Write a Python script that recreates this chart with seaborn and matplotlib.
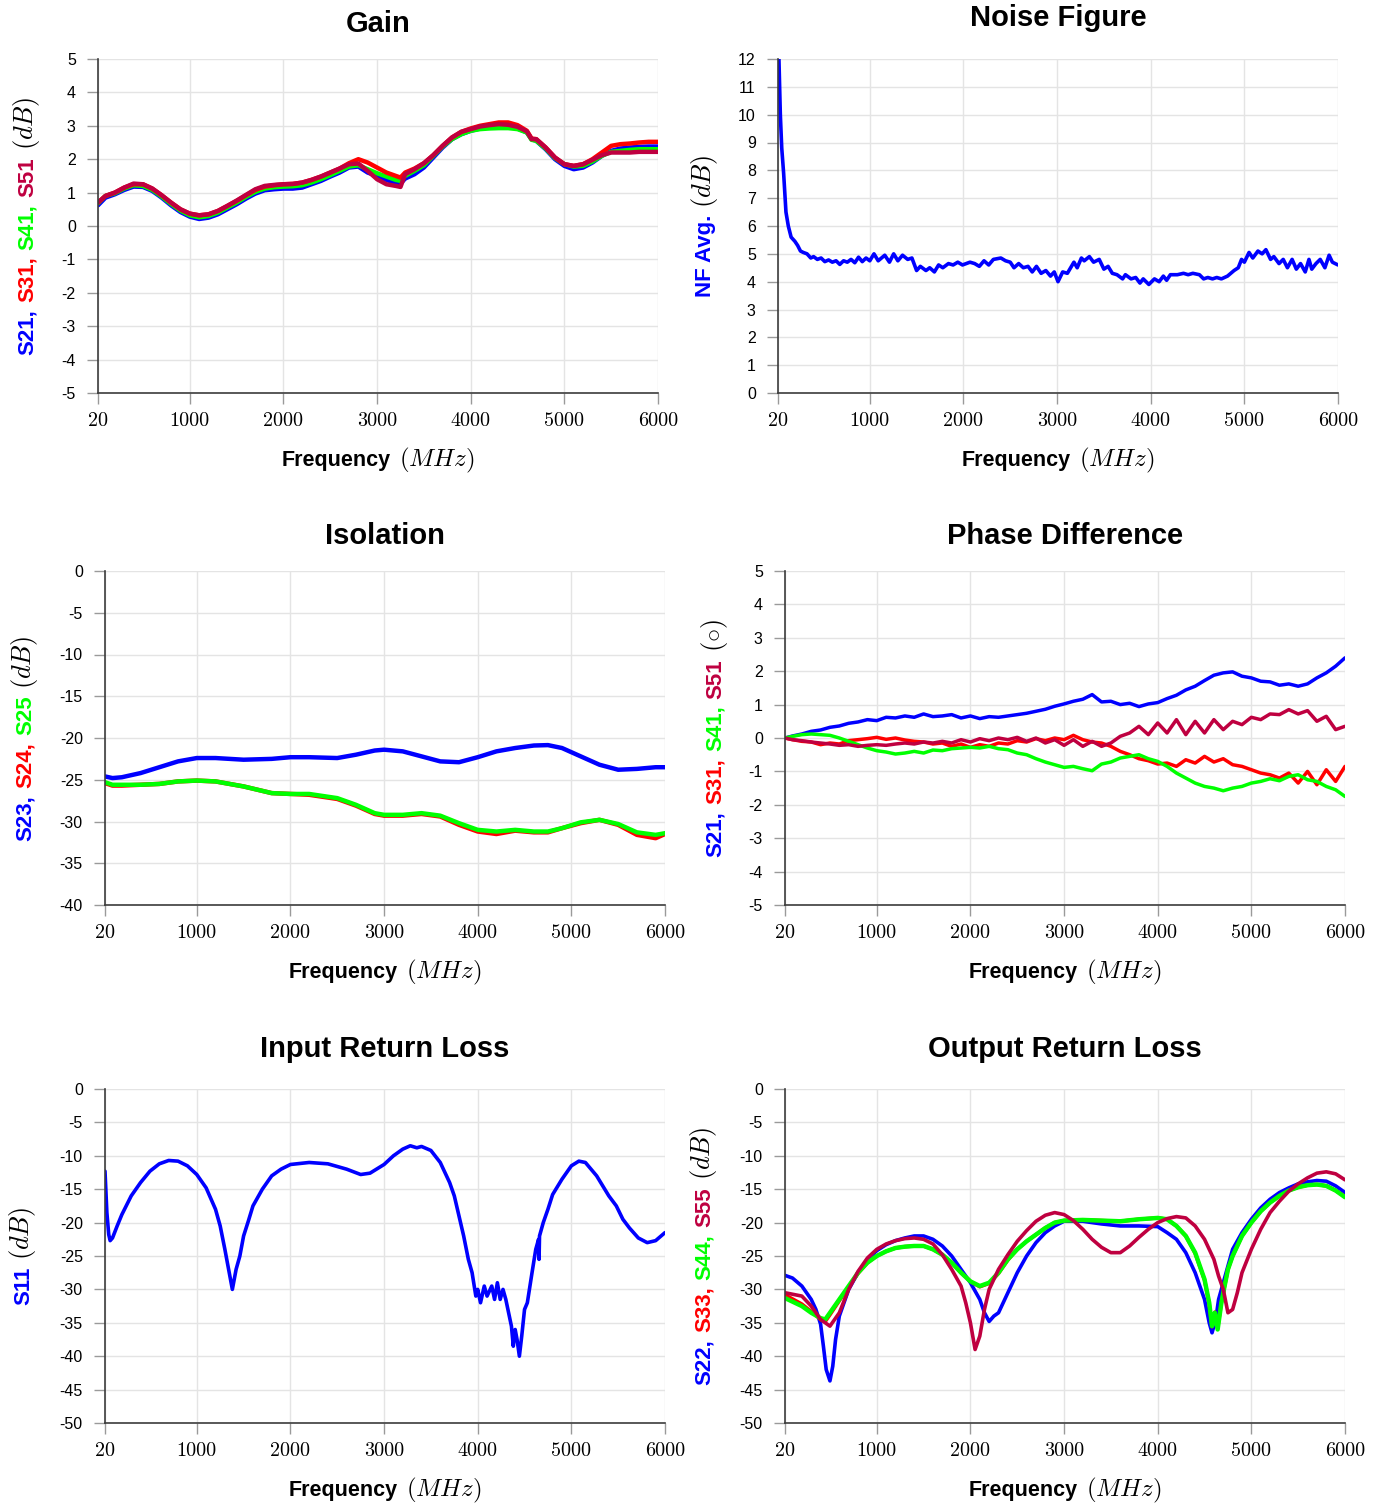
import matplotlib
matplotlib.use("Agg")
import matplotlib.pyplot as plt
from matplotlib.transforms import IdentityTransform
import seaborn as sns

# ---------------- data ----------------
BLUE, RED, GREEN, PURPLE = "#0000ff", "#ff0000", "#00ff00", "#bf0040"

XTICKS = [20, 1000, 2000, 3000, 4000, 5000, 6000]

# Gain
gain_freq = [20, 100, 200, 300, 400, 500, 600, 700, 800, 900, 1000, 1100, 1200, 1300, 1400, 1500,
             1600, 1700, 1800, 1900, 2000, 2100, 2200, 2300, 2400, 2500, 2600, 2700, 2800, 2900,
             3000, 3100, 3200, 3250, 3300, 3400, 3500, 3600, 3700, 3800, 3900, 4000, 4100, 4200,
             4300, 4400, 4500, 4600, 4650, 4700, 4800, 4900, 5000, 5100, 5200, 5300, 5400, 5500,
             5600, 5700, 5800, 5900, 6000]
gain_s21 = [0.62, 0.85, 0.95, 1.08, 1.18, 1.17, 1.05, 0.85, 0.62, 0.42, 0.28, 0.21, 0.25, 0.35, 0.5,
            0.65, 0.82, 0.97, 1.07, 1.1, 1.12, 1.12, 1.15, 1.25, 1.35, 1.48, 1.6, 1.75, 1.78, 1.6,
            1.5, 1.38, 1.28, 1.27, 1.42, 1.55, 1.75, 2.05, 2.35, 2.6, 2.75, 2.85, 2.92, 2.95, 2.97,
            2.97, 2.92, 2.8, 2.6, 2.55, 2.3, 2.0, 1.8, 1.7, 1.75, 1.9, 2.1, 2.25, 2.32, 2.35, 2.37,
            2.38, 2.38]
gain_s31 = [0.7, 0.9, 1.0, 1.15, 1.25, 1.25, 1.12, 0.92, 0.7, 0.5, 0.37, 0.32, 0.35, 0.45, 0.6,
            0.75, 0.92, 1.08, 1.18, 1.22, 1.25, 1.26, 1.3, 1.38, 1.48, 1.6, 1.72, 1.88, 2.0, 1.9,
            1.75, 1.6, 1.5, 1.45, 1.6, 1.72, 1.88, 2.12, 2.4, 2.65, 2.82, 2.92, 3.0, 3.05, 3.1,
            3.1, 3.02, 2.85, 2.62, 2.6, 2.35, 2.05, 1.85, 1.8, 1.85, 2.0, 2.2, 2.4, 2.45, 2.47,
            2.5, 2.52, 2.52]
gain_s41 = [0.68, 0.9, 0.98, 1.12, 1.22, 1.2, 1.08, 0.88, 0.66, 0.46, 0.32, 0.26, 0.3, 0.4, 0.55,
            0.7, 0.87, 1.02, 1.12, 1.16, 1.18, 1.19, 1.22, 1.3, 1.4, 1.52, 1.65, 1.78, 1.82, 1.7,
            1.58, 1.48, 1.38, 1.35, 1.5, 1.65, 1.82, 2.1, 2.38, 2.6, 2.75, 2.85, 2.9, 2.92, 2.93,
            2.93, 2.9, 2.8, 2.58, 2.55, 2.32, 2.03, 1.85, 1.78, 1.8, 1.93, 2.1, 2.22, 2.25, 2.28,
            2.3, 2.3, 2.3]
gain_s51 = [0.7, 0.9, 1.0, 1.15, 1.27, 1.25, 1.12, 0.92, 0.7, 0.5, 0.37, 0.32, 0.35, 0.45, 0.6,
            0.76, 0.93, 1.1, 1.2, 1.23, 1.25, 1.26, 1.3, 1.38, 1.48, 1.6, 1.72, 1.85, 1.87, 1.65,
            1.4, 1.25, 1.2, 1.17, 1.55, 1.7, 1.88, 2.12, 2.4, 2.65, 2.82, 2.9, 2.98, 3.02, 3.05,
            3.03, 2.97, 2.83, 2.6, 2.6, 2.35, 2.05, 1.85, 1.8, 1.85, 1.98, 2.12, 2.2, 2.2, 2.2,
            2.22, 2.22, 2.22]

# Noise figure
nf_freq = [20, 30, 45, 60, 80, 105, 130, 160, 200, 230, 260, 290, 330, 370, 400, 440, 480, 520,
           560, 600, 640, 680, 720, 760, 800, 840, 880, 920, 960, 1000, 1045, 1090, 1160, 1210,
           1255, 1300, 1350, 1405, 1450, 1500, 1540, 1600, 1640, 1690, 1735, 1780, 1840, 1890,
           1940, 1990, 2070, 2120, 2170, 2220, 2270, 2320, 2400, 2450, 2500, 2540, 2590, 2640,
           2690, 2735, 2780, 2830, 2880, 2930, 2970, 3010, 3060, 3110, 3180, 3215, 3260, 3290,
           3345, 3390, 3450, 3500, 3545, 3590, 3640, 3700, 3730, 3790, 3840, 3885, 3920, 3980,
           4040, 4090, 4135, 4170, 4210, 4285, 4350, 4400, 4450, 4520, 4565, 4610, 4660, 4705,
           4755, 4820, 4890, 4935, 4970, 5000, 5050, 5090, 5145, 5190, 5230, 5280, 5315, 5370,
           5415, 5460, 5510, 5555, 5600, 5650, 5690, 5720, 5765, 5810, 5860, 5905, 5940, 6000]
nf_avg = [13.5, 12.0, 10.0, 8.8, 7.9, 6.5, 6.0, 5.6, 5.45, 5.3, 5.1, 5.05, 5.0, 4.85, 4.9, 4.8,
          4.85, 4.72, 4.78, 4.7, 4.75, 4.62, 4.75, 4.7, 4.8, 4.68, 4.88, 4.72, 4.85, 4.75, 5.0,
          4.75, 4.95, 4.7, 5.0, 4.75, 4.95, 4.8, 4.85, 4.4, 4.55, 4.4, 4.5, 4.35, 4.6, 4.5, 4.65,
          4.6, 4.7, 4.6, 4.7, 4.65, 4.55, 4.75, 4.6, 4.8, 4.85, 4.75, 4.7, 4.5, 4.65, 4.5, 4.55,
          4.35, 4.55, 4.3, 4.4, 4.2, 4.35, 4.0, 4.35, 4.3, 4.7, 4.5, 4.85, 4.75, 4.9, 4.7, 4.8,
          4.45, 4.55, 4.3, 4.25, 4.1, 4.25, 4.1, 4.15, 3.95, 4.1, 3.9, 4.1, 4.0, 4.2, 4.05, 4.25,
          4.25, 4.3, 4.25, 4.3, 4.25, 4.1, 4.15, 4.1, 4.15, 4.1, 4.2, 4.4, 4.5, 4.8, 4.7, 5.05,
          4.85, 5.1, 5.0, 5.15, 4.8, 4.9, 4.65, 4.8, 4.5, 4.8, 4.45, 4.65, 4.35, 4.8, 4.45, 4.65,
          4.8, 4.5, 4.95, 4.7, 4.6]

# Isolation
iso_freq = [20, 100, 200, 400, 600, 800, 1000, 1200, 1500, 1800, 2000, 2200, 2500, 2700, 2900,
            3000, 3200, 3400, 3600, 3800, 4000, 4200, 4400, 4600, 4750, 4900, 5100, 5300, 5500,
            5700, 5900, 6000]
iso_s23 = [-24.6, -24.8, -24.7, -24.2, -23.5, -22.8, -22.4, -22.4, -22.6, -22.5, -22.3, -22.3,
           -22.4, -22.0, -21.5, -21.4, -21.6, -22.2, -22.8, -22.9, -22.3, -21.6, -21.2, -20.9,
           -20.85, -21.2, -22.2, -23.2, -23.8, -23.7, -23.5, -23.5]
iso_s24 = [-25.4, -25.7, -25.7, -25.6, -25.5, -25.2, -25.1, -25.2, -25.8, -26.6, -26.7, -26.8,
           -27.3, -28.1, -29.1, -29.3, -29.3, -29.1, -29.4, -30.4, -31.2, -31.5, -31.1, -31.3,
           -31.3, -30.8, -30.2, -29.8, -30.4, -31.6, -32.0, -31.5]
iso_s25 = [-25.3, -25.6, -25.6, -25.6, -25.5, -25.2, -25.1, -25.2, -25.8, -26.6, -26.7, -26.7,
           -27.2, -28.0, -29.0, -29.2, -29.2, -29.0, -29.3, -30.2, -31.0, -31.2, -31.0, -31.2,
           -31.2, -30.8, -30.1, -29.8, -30.3, -31.3, -31.6, -31.4]

# Phase difference
phase_freq = [20, 100, 200, 300, 400, 500, 600, 700, 800, 900, 1000, 1100, 1200, 1300, 1400,
              1500, 1600, 1700, 1800, 1900, 2000, 2100, 2200, 2300, 2400, 2500, 2600, 2700, 2800,
              2900, 3000, 3100, 3200, 3300, 3400, 3500, 3600, 3700, 3800, 3900, 4000, 4100, 4200,
              4300, 4400, 4500, 4600, 4700, 4800, 4900, 5000, 5100, 5200, 5300, 5400, 5500, 5600,
              5700, 5800, 5900, 6000]
phase_s21 = [0.0, 0.06, 0.12, 0.2, 0.24, 0.32, 0.36, 0.44, 0.48, 0.55, 0.52, 0.62, 0.6, 0.66,
             0.62, 0.72, 0.64, 0.66, 0.7, 0.6, 0.66, 0.58, 0.64, 0.62, 0.66, 0.7, 0.74, 0.8, 0.86,
             0.95, 1.02, 1.1, 1.16, 1.3, 1.08, 1.1, 1.0, 1.04, 0.94, 1.02, 1.06, 1.18, 1.28, 1.44,
             1.55, 1.72, 1.88, 1.95, 1.98, 1.85, 1.8, 1.7, 1.68, 1.58, 1.62, 1.55, 1.62, 1.8, 1.95,
             2.15, 2.4]
phase_s31 = [0.0, -0.05, -0.1, -0.12, -0.2, -0.15, -0.18, -0.08, -0.05, -0.02, 0.02, -0.04, 0.0,
             -0.06, -0.1, -0.12, -0.18, -0.15, -0.25, -0.18, -0.28, -0.2, -0.25, -0.15, -0.18,
             -0.08, -0.12, -0.02, -0.08, 0.0, -0.05, 0.08, -0.05, -0.12, -0.15, -0.25, -0.4, -0.5,
             -0.62, -0.68, -0.78, -0.75, -0.85, -0.65, -0.75, -0.55, -0.72, -0.62, -0.8, -0.85,
             -0.95, -1.05, -1.1, -1.2, -1.05, -1.35, -1.0, -1.4, -0.95, -1.3, -0.85]
phase_s41 = [0.0, 0.05, 0.1, 0.12, 0.1, 0.08, 0.0, -0.1, -0.2, -0.3, -0.38, -0.42, -0.48, -0.45,
             -0.4, -0.45, -0.36, -0.38, -0.32, -0.3, -0.28, -0.3, -0.25, -0.32, -0.35, -0.45, -0.5,
             -0.62, -0.72, -0.8, -0.88, -0.85, -0.92, -0.98, -0.78, -0.72, -0.6, -0.55, -0.5,
             -0.62, -0.7, -0.85, -1.05, -1.2, -1.35, -1.45, -1.5, -1.58, -1.5, -1.45, -1.35, -1.3,
             -1.22, -1.28, -1.15, -1.1, -1.25, -1.3, -1.45, -1.55, -1.75]
phase_s51 = [0.0, -0.05, -0.08, -0.12, -0.15, -0.18, -0.22, -0.2, -0.25, -0.22, -0.2, -0.22,
             -0.18, -0.15, -0.18, -0.12, -0.15, -0.1, -0.15, -0.05, -0.12, -0.02, -0.08, 0.0,
             -0.05, 0.02, -0.1, 0.0, -0.15, -0.05, -0.22, -0.05, -0.25, -0.1, -0.25, -0.15, 0.05,
             0.15, 0.35, 0.1, 0.45, 0.15, 0.55, 0.1, 0.5, 0.15, 0.55, 0.25, 0.5, 0.4, 0.62, 0.55,
             0.72, 0.7, 0.85, 0.72, 0.82, 0.5, 0.65, 0.25, 0.35]

# Input return loss
irl_freq = [20, 40, 60, 75, 100, 150, 200, 300, 400, 500, 600, 700, 800, 900, 1000, 1100, 1200,
            1250, 1300, 1340, 1380, 1420, 1460, 1500, 1550, 1600, 1700, 1800, 1900, 2000, 2200,
            2400, 2600, 2750, 2850, 3000, 3100, 3200, 3280, 3350, 3400, 3500, 3600, 3700, 3750,
            3800, 3850, 3900, 3940, 3980, 4000, 4030, 4070, 4100, 4150, 4180, 4210, 4240, 4270,
            4300, 4330, 4360, 4380, 4400, 4420, 4445, 4470, 4500, 4530, 4580, 4620, 4650, 4655,
            4660, 4700, 4750, 4800, 4900, 5000, 5080, 5150, 5270, 5400, 5480, 5550, 5620, 5715,
            5810, 5900, 6000]
irl_s11 = [-12.3, -18.5, -21.8, -22.7, -22.3, -20.5, -18.8, -16.0, -14.0, -12.3, -11.2, -10.7,
           -10.8, -11.5, -12.8, -14.8, -18.0, -20.5, -24.0, -27.0, -30.0, -27.0, -25.0, -22.0,
           -19.8, -17.5, -15.0, -13.0, -12.0, -11.3, -11.0, -11.2, -12.0, -12.8, -12.6, -11.3,
           -10.0, -9.0, -8.5, -8.8, -8.6, -9.2, -11.0, -14.0, -16.0, -19.0, -22.0, -25.5, -27.5,
           -31.0, -30.0, -32.0, -29.5, -31.0, -29.5, -31.5, -29.0, -31.5, -30.0, -31.5, -33.5,
           -35.5, -38.5, -36.0, -37.5, -40.0, -37.0, -33.0, -32.0, -27.5, -24.0, -22.5, -25.5,
           -22.0, -20.0, -18.0, -15.8, -13.5, -11.5, -10.8, -11.0, -13.0, -16.0, -17.5, -19.5,
           -20.8, -22.3, -23.0, -22.7, -21.5]

# Output return loss
orl_s22_freq = [20, 100, 200, 300, 350, 400, 430, 460, 500, 530, 560, 600, 700, 800, 900, 1000,
                1100, 1200, 1300, 1400, 1500, 1600, 1700, 1800, 1900, 2000, 2100, 2150, 2200,
                2250, 2300, 2400, 2500, 2600, 2700, 2800, 2900, 3000, 3200, 3400, 3600, 3800,
                4000, 4100, 4200, 4300, 4400, 4500, 4550, 4580, 4620, 4650, 4700, 4750, 4800,
                4900, 5000, 5100, 5200, 5300, 5400, 5500, 5600, 5700, 5800, 5900, 6000]
orl_s22 = [-27.9, -28.3, -29.5, -31.5, -33.0, -35.2, -38.5, -42.0, -43.7, -41.5, -37.5, -34.0,
           -30.0, -27.5, -25.5, -24.2, -23.3, -22.7, -22.3, -22.0, -22.0, -22.5, -23.5, -25.0,
           -27.0, -29.0, -31.5, -33.5, -34.8, -34.0, -33.5, -30.5, -27.5, -25.0, -23.0, -21.5,
           -20.5, -19.8, -19.8, -20.2, -20.5, -20.5, -20.6, -21.5, -22.5, -24.5, -27.5, -31.5,
           -35.0, -36.5, -34.5, -31.5, -29.0, -26.5, -24.0, -21.5, -19.5, -17.8, -16.5, -15.5,
           -14.8, -14.2, -13.9, -13.7, -13.8, -14.5, -15.5]
orl_s44_freq = [20, 200, 300, 400, 450, 500, 600, 700, 800, 900, 1000, 1100, 1200, 1300, 1400,
                1500, 1600, 1700, 1800, 1900, 2000, 2100, 2200, 2300, 2400, 2500, 2600, 2700,
                2800, 2900, 3000, 3200, 3400, 3600, 3800, 4000, 4100, 4200, 4300, 4400, 4500,
                4550, 4580, 4610, 4640, 4680, 4700, 4750, 4800, 4900, 5000, 5100, 5200, 5300,
                5400, 5500, 5600, 5700, 5800, 5900, 6000]
orl_s33 = [-30.8, -32.2, -33.3, -34.5, -34.8, -33.8, -31.7, -29.6, -27.6, -26.0, -25.0, -24.3,
           -23.8, -23.6, -23.5, -23.5, -24.0, -24.8, -26.0, -27.5, -28.8, -29.6, -29.1, -27.6,
           -25.6, -24.0, -22.8, -21.8, -20.8, -20.0, -19.7, -19.6, -19.7, -19.8, -19.5, -19.3,
           -19.5, -20.5, -22.0, -24.6, -28.6, -32.2, -35.6, -33.4, -35.8, -32.0, -30.5, -27.0,
           -25.0, -22.0, -20.0, -18.3, -17.0, -16.0, -15.2, -14.7, -14.4, -14.3, -14.5, -15.2,
           -16.1]
orl_s44 = [-31.3, -32.5, -33.5, -34.3, -34.5, -33.5, -31.5, -29.5, -27.5, -26.0, -25.0, -24.3,
           -23.8, -23.6, -23.5, -23.5, -24.0, -24.8, -26.0, -27.5, -28.8, -29.5, -29.0, -27.5,
           -25.5, -24.0, -22.8, -21.8, -20.8, -20.0, -19.7, -19.6, -19.7, -19.8, -19.5, -19.3,
           -19.5, -20.5, -22.0, -24.5, -28.5, -32.0, -35.5, -33.5, -36.0, -32.0, -30.5, -27.0,
           -25.0, -22.0, -20.0, -18.3, -17.0, -16.0, -15.2, -14.7, -14.4, -14.3, -14.5, -15.2,
           -16.2]
orl_s55_freq = [20, 200, 300, 400, 500, 600, 700, 800, 900, 1000, 1100, 1200, 1300, 1400, 1500,
                1600, 1700, 1800, 1900, 1950, 2000, 2050, 2100, 2150, 2200, 2300, 2400, 2500,
                2600, 2700, 2800, 2900, 3000, 3100, 3200, 3300, 3400, 3500, 3600, 3700, 3800,
                3900, 4000, 4100, 4200, 4300, 4400, 4500, 4600, 4650, 4700, 4750, 4800, 4850,
                4900, 5000, 5100, 5200, 5300, 5400, 5500, 5600, 5700, 5800, 5900, 6000]
orl_s55 = [-30.5, -31.0, -32.5, -34.5, -35.5, -33.5, -30.0, -27.3, -25.3, -24.0, -23.2, -22.7,
           -22.4, -22.3, -22.5, -23.2, -24.8, -27.0, -29.5, -32.0, -35.0, -39.0, -37.0, -33.0,
           -30.0, -27.0, -24.8, -22.8, -21.2, -19.8, -18.9, -18.5, -18.8, -19.7, -21.0, -22.5,
           -23.7, -24.5, -24.5, -23.5, -22.2, -21.0, -20.0, -19.4, -19.1, -19.3, -20.5, -22.5,
           -25.5, -28.0, -30.0, -33.5, -33.0, -30.5, -27.5, -24.0, -21.0, -18.5, -16.8, -15.3,
           -14.2, -13.3, -12.6, -12.4, -12.7, -13.6]

# ---------------- style ----------------
sns.set_theme(style="whitegrid")
plt.rcParams["font.family"] = ["Liberation Sans", "DejaVu Sans"]
plt.rcParams["mathtext.fontset"] = "cm"
plt.rcParams["axes.unicode_minus"] = False

W, H = 1383, 1505
AX_W, AX_H = 560, 334

fig = plt.figure(figsize=(W / 100, H / 100), dpi=100)
fig.patch.set_facecolor("white")
renderer = fig.canvas.get_renderer()


def stack_text(pieces, cx, cy, vertical, gap=7):
    # lay out differently styled text pieces one after another, centred on (cx, cy)
    items = []
    for s, c, size, weight in pieces:
        t = fig.text(0, 0, s, color=c, fontsize=size, fontweight=weight,
                     rotation=90 if vertical else 0, rotation_mode="anchor",
                     ha="left", va="baseline", transform=IdentityTransform())
        bb = t.get_window_extent(renderer=renderer)
        items.append((t, bb.height if vertical else bb.width))
    total = sum(n for _, n in items) + gap * (len(items) - 1)
    pos = -total / 2
    for t, n in items:
        t.set_position((cx, cy + pos) if vertical else (cx + pos, cy))
        pos += n + gap


def make_panel(left, top, title, title_base, ylim, yticks, ylabel, ylabel_x):
    ax = fig.add_axes([left / W, 1 - (top + AX_H) / H, AX_W / W, AX_H / H])
    ax.set_facecolor("white")
    ax.set_xlim(20, 6000)
    ax.set_ylim(*ylim)
    ax.set_xticks(XTICKS, labels=[str(t) for t in XTICKS])
    ax.set_yticks(yticks, labels=[str(t) for t in yticks])
    ax.grid(True, color="#e4e4e4", lw=1.0)
    ax.set_axisbelow(True)
    for s in ["top", "right"]:
        ax.spines[s].set_visible(False)
    for s in ["left", "bottom"]:
        ax.spines[s].set_color("#3c3c3c")
        ax.spines[s].set_linewidth(1.2)
        ax.spines[s].set_zorder(5)
    ax.tick_params(axis="both", which="major", direction="out", length=8, width=1,
                   color="#9a9a9a", left=True, bottom=True, labelcolor="black")
    ax.tick_params(axis="x", labelsize=14.5, labelfontfamily="cmr10", pad=6)
    ax.tick_params(axis="y", labelsize=11.5, pad=8)

    cx = left + AX_W / 2
    stack_text([(title, "black", 21, "bold")], cx, H - title_base, False)
    stack_text([("Frequency", "black", 15.5, "bold"), ("$(MHz)$", "black", 18, "normal")],
               cx, H - (top + AX_H + 73), False, gap=9)
    stack_text(ylabel, ylabel_x, H - (top + AX_H / 2), True, gap=7)
    return ax


def ylab(parts, unit):
    return [(s, c, 16, "bold") for s, c in parts] + [(unit, "black", 19, "normal")]


LW = 2.6

# Gain
ax = make_panel(98, 59, "Gain", 32, (-5, 5), list(range(-5, 6)),
                ylab([("S21,", BLUE), ("S31,", RED), ("S41,", GREEN), ("S51", PURPLE)], "$(dB)$"), 33)
for vals, col in [(gain_s21, BLUE), (gain_s41, GREEN), (gain_s31, RED), (gain_s51, PURPLE)]:
    sns.lineplot(x=gain_freq, y=vals, color=col, linewidth=LW + 0.6, ax=ax)

# Noise figure
ax = make_panel(778, 59, "Noise Figure", 26, (0, 12), list(range(0, 13)),
                ylab([("NF Avg.", BLUE)], "$(dB)$"), 711)
sns.lineplot(x=nf_freq, y=nf_avg, color=BLUE, linewidth=LW, ax=ax)

# Isolation
ax = make_panel(105, 571, "Isolation", 544, (-40, 0), list(range(-40, 1, 5)),
                ylab([("S23,", BLUE), ("S24,", RED), ("S25", GREEN)], "$(dB)$"), 31)
for vals, col in [(iso_s23, BLUE), (iso_s24, RED), (iso_s25, GREEN)]:
    sns.lineplot(x=iso_freq, y=vals, color=col, linewidth=LW + 0.6, ax=ax)

# Phase difference
ax = make_panel(785, 571, "Phase Difference", 544, (-5, 5), list(range(-5, 6)),
                ylab([("S21,", BLUE), ("S31,", RED), ("S41,", GREEN), ("S51", PURPLE)], r"$(\circ)$"), 721)
for vals, col in [(phase_s21, BLUE), (phase_s31, RED), (phase_s41, GREEN), (phase_s51, PURPLE)]:
    sns.lineplot(x=phase_freq, y=vals, color=col, linewidth=2.5, ax=ax)

# Input return loss
ax = make_panel(105, 1089, "Input Return Loss", 1057, (-50, 0), list(range(-50, 1, 5)),
                ylab([("S11", BLUE)], "$(dB)$"), 29)
sns.lineplot(x=irl_freq, y=irl_s11, color=BLUE, linewidth=LW, ax=ax)

# Output return loss
ax = make_panel(785, 1089, "Output Return Loss", 1057, (-50, 0), list(range(-50, 1, 5)),
                ylab([("S22,", BLUE), ("S33,", RED), ("S44,", GREEN), ("S55", PURPLE)], "$(dB)$"), 710)
sns.lineplot(x=orl_s22_freq, y=orl_s22, color=BLUE, linewidth=LW, ax=ax)
sns.lineplot(x=orl_s44_freq, y=orl_s33, color=RED, linewidth=LW, ax=ax)
sns.lineplot(x=orl_s44_freq, y=orl_s44, color=GREEN, linewidth=LW + 0.6, ax=ax)
sns.lineplot(x=orl_s55_freq, y=orl_s55, color=PURPLE, linewidth=LW, ax=ax)

fig.savefig("out.png", dpi=100, facecolor="white")
